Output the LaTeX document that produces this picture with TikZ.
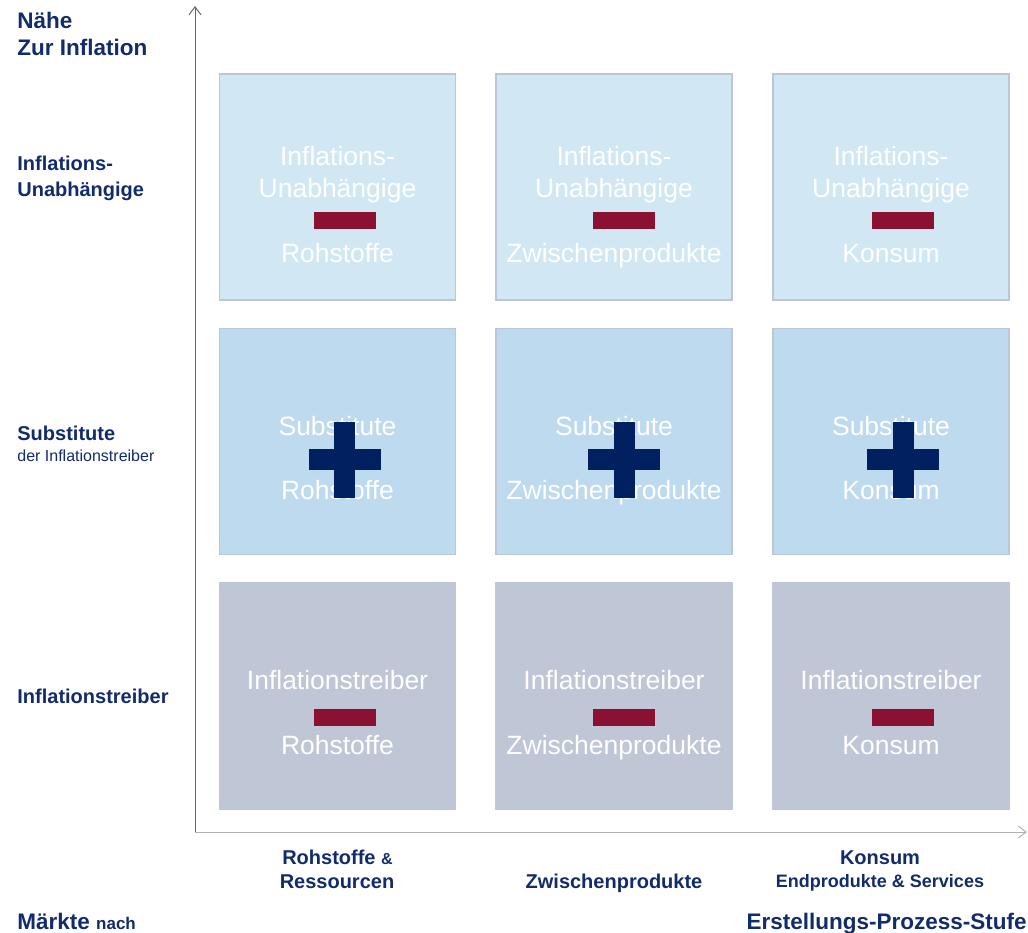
\documentclass[tikz,border=0pt]{standalone}
\usepackage{fontspec}
\setmainfont{Liberation Sans}
\usepackage{tikz}
\usepackage{xcolor}
\usetikzlibrary{positioning,arrows.meta}

\definecolor{indepfill}{HTML}{D1E8F4}
\definecolor{substfill}{HTML}{BDDAEE}
\definecolor{driverfill}{HTML}{BFC6D6}
\definecolor{cellline}{HTML}{BCC6D6}
\definecolor{minusred}{HTML}{8A1131}
\definecolor{plusblue}{HTML}{002060}
\definecolor{labelblue}{HTML}{112B6B}

\begin{document}
\begin{tikzpicture}[
          x=0.5pt, y=-0.5pt,
          cell/.style={draw=cellline, line width=0.75pt, minimum width=118pt, minimum height=113pt, inner sep=0pt},
          indep/.style={cell, fill=indepfill},
          subst/.style={cell, fill=substfill},
          driver/.style={cell, fill=driverfill, draw=driverfill},
          celltext/.style={text=white, font=\fontsize{13.25}{15}\selectfont, anchor=base, inner sep=0pt},
          minusbar/.style={fill=minusred, minimum width=31pt, minimum height=8.5pt, inner sep=0pt},
          plusbar/.style={fill=plusblue, inner sep=0pt},
          ylab/.style={text=labelblue, font=\fontsize{10}{12}\selectfont\bfseries, anchor=base west, inner sep=0pt},
          xlab/.style={text=labelblue, font=\fontsize{10}{12}\selectfont\bfseries, anchor=base, inner sep=0pt},
          headlab/.style={text=labelblue, font=\fontsize{11.25}{13.5}\selectfont\bfseries, inner sep=0pt},
          axis/.style={-{Straight Barb[length=4pt,width=6pt]}, line width=0.5pt}
      ]
        \useasboundingbox (0,0) rectangle (1028,932);

        % axes
        \coordinate (origin) at (195,832);
        \coordinate (ytop) at (195,6);
        \coordinate (xend) at (1027,832);
        \draw[axis, draw=black!60] (origin) -- (ytop);
        \draw[axis, draw=black!30] (origin) -- (xend);

        % grid of market cells
        \foreach \cx/\dx/\nm/\prod in {337.5/7/A/Rohstoffe, 614/10/B/Zwischenprodukte, 891/12/C/Konsum} {
          \node[indep] (indep\nm) at (\cx,187) {};
          \node[celltext] (indep\nm a) at (\cx,165) {Inflations-};
          \node[celltext] (indep\nm b) at (\cx,197) {Unabhängige};
          \node[celltext] (indep\nm c) at (\cx,262) {\prod};
          \node[minusbar] (indep\nm m) at ({\cx+\dx},220) {};

          \node[subst] (subst\nm) at (\cx,441.5) {};
          \node[celltext] (subst\nm a) at (\cx,435) {Substitute};
          \node[celltext] (subst\nm c) at (\cx,499) {\prod};
          \node[plusbar, minimum width=36pt, minimum height=10.5pt] (subst\nm h) at ({\cx+\dx},459.5) {};
          \node[plusbar, minimum width=10.5pt, minimum height=38pt] (subst\nm v) at ({\cx+\dx},459.5) {};

          \node[driver] (driver\nm) at (\cx,696) {};
          \node[celltext] (driver\nm a) at (\cx,689) {Inflationstreiber};
          \node[celltext] (driver\nm c) at (\cx,754) {\prod};
          \node[minusbar] (driver\nm m) at ({\cx+\dx},717.5) {};
        }

        % row labels
        \node[headlab, anchor=base west] (nearA) at (17,28) {Nähe};
        \node[headlab, anchor=base west] (nearB) at (17,55) {Zur Inflation};
        \node[ylab] (indepLabA) at (17,170) {Inflations-};
        \node[ylab] (indepLabB) at (17,196) {Unabhängige};
        \node[ylab] (substLabA) at (17,440) {Substitute};
        \node[ylab, font=\fontsize{8}{9}\selectfont] (substLabB) at (17,461) {der Inflationstreiber};
        \node[ylab] (driverLab) at (17,703) {Inflationstreiber};

        % column labels
        \node[xlab] (rawLabA) at (337.5,864) {Rohstoffe {\fontsize{8}{9}\selectfont\&}};
        \node[xlab] (rawLabB) at (337,888) {Ressourcen};
        \node[xlab] (midLab) at (614,888) {Zwischenprodukte};
        \node[xlab] (endLabA) at (880,864) {Konsum};
        \node[xlab, font=\fontsize{9}{11}\selectfont\bfseries] (endLabB) at (880,887) {Endprodukte \& Services};
        \node[headlab, anchor=base west] (marketLab) at (17,929) {Märkte {\fontsize{8.5}{10}\selectfont nach}};
        \node[headlab, anchor=base east] (stageLab) at (1027,929) {Erstellungs-Prozess-Stufe};
      \end{tikzpicture}
\end{document}
